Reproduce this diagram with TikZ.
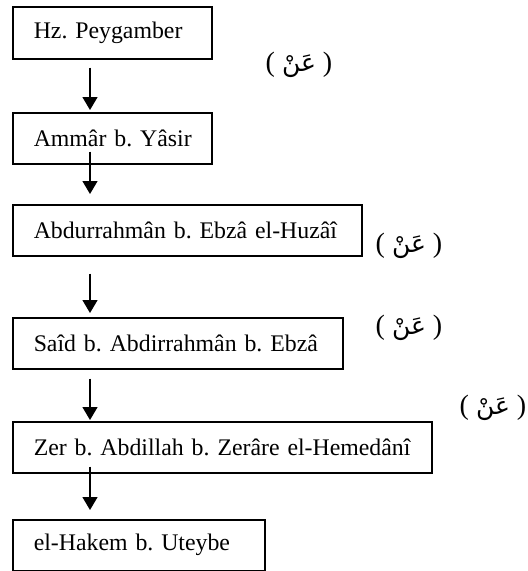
\documentclass[tikz,border=0pt]{standalone}
\usepackage{fontspec}
\setmainfont{Liberation Serif}
\newfontfamily\arabicfont[Script=Arabic]{DejaVu Sans}
\TeXXeTstate=1
\frenchspacing
\usetikzlibrary{arrows.meta,calc}
\begin{document}
\begin{tikzpicture}[x=1pt,y=1pt,
  namebox/.style={draw, line width=1.5pt, anchor=north west, inner xsep=0pt, inner ysep=0pt,
    align=left, font=\fontsize{23.8}{28}\selectfont\frenchspacing},
  arr/.style={line width=1.4pt, -{Triangle[length=13pt,width=15pt]}},
  anlabel/.style={font=\fontsize{28}{32}\selectfont, inner sep=0pt}]
\useasboundingbox (0,0) rectangle (528,-571);
\coordinate (ax) at (90,0);
\node[namebox, text width=199pt, minimum height=52pt] (b1) at (12,-6) {\hspace*{21pt}Hz. Peygamber};
\node[namebox, text width=199pt, minimum height=51pt] (b2) at (12,-112) {\hspace*{21pt}Ammâr b. Yâsir};
\node[namebox, text width=349pt, minimum height=51pt] (b3) at (12,-204) {\hspace*{21pt}Abdurrahmân b. Ebzâ el-Huzâî};
\node[namebox, text width=330pt, minimum height=51pt] (b4) at (12,-317) {\hspace*{21pt}Saîd b. Abdirrahmân b. Ebzâ};
\node[namebox, text width=419pt, minimum height=51pt] (b5) at (12,-421) {\hspace*{21pt}Zer b. Abdillah b. Zerâre el-Hemedânî};
\node[namebox, text width=252pt, minimum height=51pt] (b6) at (12,-519) {\hspace*{21pt}el-Hakem b. Uteybe};
\node[anlabel] (l1) at (299,-65) {( {\arabicfont\fontsize{25}{30}\selectfont\beginR عَنْ\endR} )};
\node[anlabel] (l2) at (409,-246) {( {\arabicfont\fontsize{25}{30}\selectfont\beginR عَنْ\endR} )};
\node[anlabel] (l3) at (409,-328) {( {\arabicfont\fontsize{25}{30}\selectfont\beginR عَنْ\endR} )};
\node[anlabel] (l4) at (493,-408) {( {\arabicfont\fontsize{25}{30}\selectfont\beginR عَنْ\endR} )};
\draw[arr] ($(b1.south -| ax)+(0,-8)$) -- ($(b2.north -| ax)+(0,2)$);
\draw[arr] ($(b2.south -| ax)+(0,13)$) -- ($(b3.north -| ax)+(0,10)$);
\draw[arr] ($(b3.south -| ax)+(0,-17)$) -- ($(b4.north -| ax)+(0,4)$);
\draw[arr] ($(b4.south -| ax)+(0,-9)$) -- ($(b5.north -| ax)+(0,1)$);
\draw[arr] ($(b5.south -| ax)+(0,7)$) -- ($(b6.north -| ax)+(0,9)$);
\end{tikzpicture}
\end{document}
